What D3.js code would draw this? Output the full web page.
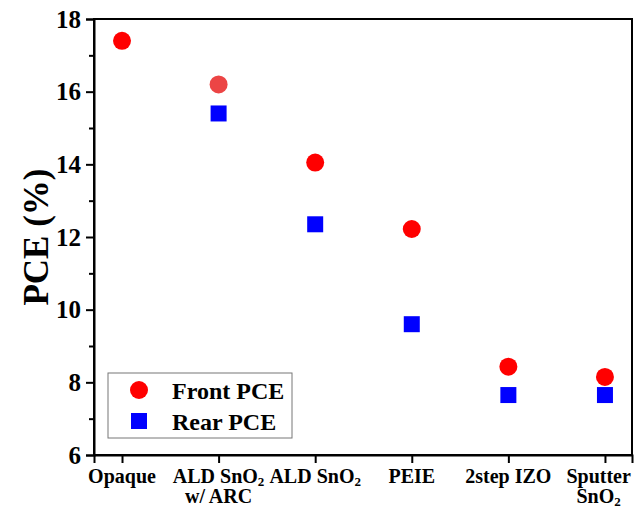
<!DOCTYPE html>
<html>
<head>
<meta charset="utf-8">
<script src="https://cdn.jsdelivr.net/npm/d3@7/dist/d3.min.js"></script>
<style>
  body { margin: 0; background: #fff; }
  svg text { font-family: "Liberation Serif", "Times New Roman", serif; font-weight: bold; fill: #000; }
</style>
</head>
<body>
<div id="chart"></div>
<script>
// categories (second part of a line is a subscript)
var categories = [
	[["Opaque"]],
	[["ALD SnO", "2"], ["w/ ARC"]],
	[["ALD SnO", "2"]],
	[["PEIE"]],
	[["2step IZO"]],
	[["Sputter"], ["SnO", "2"]]
];
var frontPCE = [17.4, 16.2, 14.05, 12.22, 8.43, 8.15];
var rearPCE  = [null, 15.4, 12.35, 9.6, 7.65, 7.65];
var yTicks   = [6, 8, 10, 12, 14, 16, 18];
var yMinor   = [7, 9, 11, 13, 15, 17];

var width = 634;
var height = 511;
var margin = { left: 94, right: 2, top: 19, bottom: 56 };

var svg = d3.select('#chart')
	.append('svg')
	.attr('width', width)
	.attr('height', height);

var x = d3.scaleLinear()
	.domain([-0.29, 5.28])
	.range([margin.left, width - margin.right]);

var y = d3.scaleLinear()
	.domain([6, 18])
	.range([height - margin.bottom, margin.top]);

// frame
svg.append('rect')
	.attr('x', x.range()[0])
	.attr('y', y(18))
	.attr('width', x.range()[1] - x.range()[0])
	.attr('height', y(6) - y(18))
	.attr('fill', 'none')
	.attr('stroke', '#000')
	.attr('stroke-width', 2);

// y axis
var yAxis = svg.append('g')
	.attr('transform', 'translate(' + x.range()[0] + ',0)')
	.call(d3.axisLeft(y).tickValues(yTicks).tickSize(8).tickPadding(5).tickFormat(d3.format('d')));
yAxis.select('.domain').attr('stroke-width', 2);
yAxis.selectAll('.tick line').attr('stroke-width', 2);
yAxis.selectAll('.tick text').style('font-size', '25px');

svg.append('g')
	.attr('transform', 'translate(' + x.range()[0] + ',0)')
	.call(d3.axisLeft(y).tickValues(yMinor).tickSize(5).tickFormat(''))
	.call(function(g) { g.select('.domain').remove(); })
	.selectAll('.tick line').attr('stroke-width', 2);

// x axis
var xAxis = svg.append('g')
	.attr('transform', 'translate(0,' + y(6) + ')')
	.call(d3.axisBottom(x).tickValues(d3.range(categories.length)).tickSize(8).tickFormat(''));
xAxis.select('.domain').attr('stroke-width', 2);
xAxis.selectAll('.tick line').attr('stroke-width', 2);

categories.forEach(function(lines, i)
{
	var g = svg.append('g');
	lines.forEach(function(parts, j)
	{
		var t = g.append('text')
			.attr('x', x(i))
			.attr('y', y(6) + 28 + j * 20)
			.attr('text-anchor', 'middle')
			.style('font-size', '20px');
		t.append('tspan').text(parts[0]);
		if (parts[1])
		{
			t.append('tspan')
				.attr('dy', 3)
				.style('font-size', '13px')
				.text(parts[1]);
		}
	});
	// keep the last label inside the page
	var box = g.node().getBBox();
	var over = box.x + box.width - (width - 3);
	if (over > 0) g.attr('transform', 'translate(' + (-over) + ',0)');
});

// y title
svg.append('text')
	.attr('transform', 'translate(48,' + ((y(6) + y(18)) / 2) + ') rotate(-90)')
	.attr('text-anchor', 'middle')
	.style('font-size', '35px')
	.text('PCE (%)');

// points
svg.selectAll('.front')
	.data(frontPCE)
	.enter()
	.append('circle')
	.attr('class', 'front')
	.attr('cx', function(d, i) { return x(i); })
	.attr('cy', function(d) { return y(d); })
	.attr('r', 9)
	.attr('fill', function(d, i) { return i === 1 ? '#ec4545' : '#ff0000'; });

var sq = 16;
rearPCE.forEach(function(d, i)
{
	if (d === null) return;
	svg.append('rect')
		.attr('class', 'rear')
		.attr('x', x(i) - sq / 2)
		.attr('y', y(d) - sq / 2)
		.attr('width', sq)
		.attr('height', sq)
		.attr('fill', '#0000ff');
});

// legend
var legend = svg.append('g').attr('transform', 'translate(108,373)');
legend.append('rect')
	.attr('width', 184)
	.attr('height', 65)
	.attr('fill', '#fff')
	.attr('stroke', '#777')
	.attr('stroke-width', 1);
legend.append('circle').attr('cx', 31).attr('cy', 17).attr('r', 9).attr('fill', '#ff0000');
legend.append('rect').attr('x', 23).attr('y', 40).attr('width', sq).attr('height', sq).attr('fill', '#0000ff');
legend.append('text').attr('x', 64).attr('y', 26).style('font-size', '24px').text('Front PCE');
legend.append('text').attr('x', 64).attr('y', 57).style('font-size', '24px').text('Rear PCE');
</script>
</body>
</html>
